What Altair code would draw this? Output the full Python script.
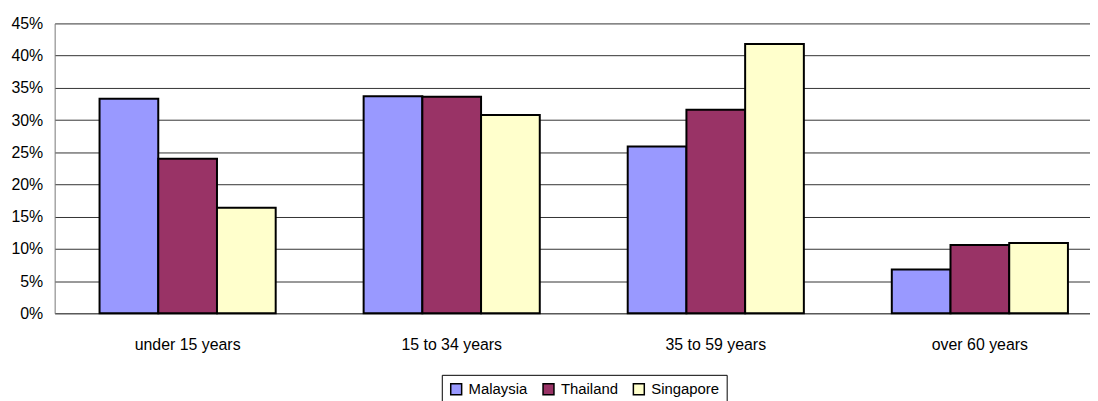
import altair as alt
import pandas as pd

categories = ["under 15 years", "15 to 34 years", "35 to 59 years", "over 60 years"]
countries = ["Malaysia", "Thailand", "Singapore"]
malaysia = [0.333, 0.337, 0.259, 0.068]
thailand = [0.240, 0.336, 0.316, 0.106]
singapore = [0.164, 0.308, 0.418, 0.109]
colors = ["#9999FF", "#993366", "#FFFFCC"]

rows = []
for i, c in enumerate(categories):
    for country, vals in zip(countries, [malaysia, thailand, singapore]):
        rows.append({"age": c, "country": country, "value": vals[i]})
df = pd.DataFrame(rows)

FONT = "Liberation Sans"

chart = (
    alt.Chart(df)
    .mark_bar(stroke="black", strokeWidth=2)
    .encode(
        x=alt.X(
            "age:N",
            sort=categories,
            title=None,
            scale=alt.Scale(range=[0, 1066], paddingInner=0.333, paddingOuter=0.17),
            axis=alt.Axis(
                labelAngle=0, ticks=False, labelPadding=23, labelFontSize=16,
                labelFont=FONT, labelColor="#000", domainColor="#555", grid=False,
            ),
        ),
        xOffset=alt.XOffset("country:N", sort=countries,
                            scale=alt.Scale(paddingInner=0, paddingOuter=0)),
        y=alt.Y(
            "value:Q",
            title=None,
            scale=alt.Scale(domain=[0, 0.45], nice=False),
            axis=alt.Axis(
                values=[i * 0.05 for i in range(10)], format=".0%", ticks=False,
                labelPadding=12, labelFontSize=16, labelFont=FONT, labelColor="#000",
                domainColor="#777", gridColor="#333", gridOpacity=1, gridWidth=1,
            ),
        ),
        fill=alt.Fill(
            "country:N", sort=countries,
            scale=alt.Scale(domain=countries, range=colors),
            legend=alt.Legend(
                title=None, orient="none", legendX=390, legendY=354,
                direction="horizontal", symbolType="square", symbolSize=121,
                symbolStrokeColor="black", symbolStrokeWidth=1.5, symbolOpacity=1,
                labelFontSize=15, labelFont=FONT, labelColor="#000",
                strokeColor="black", padding=7, labelOffset=5, columnPadding=12,
            ),
        ),
    )
    .properties(
        width=1043, height=292,
        autosize=alt.AutoSizeParams(type="none"),
        padding={"left": 47, "top": 14, "right": 0, "bottom": 110},
    )
    .configure_view(stroke=None)
)

chart.save("out.html", embed_options={"renderer": "svg", "actions": False})
